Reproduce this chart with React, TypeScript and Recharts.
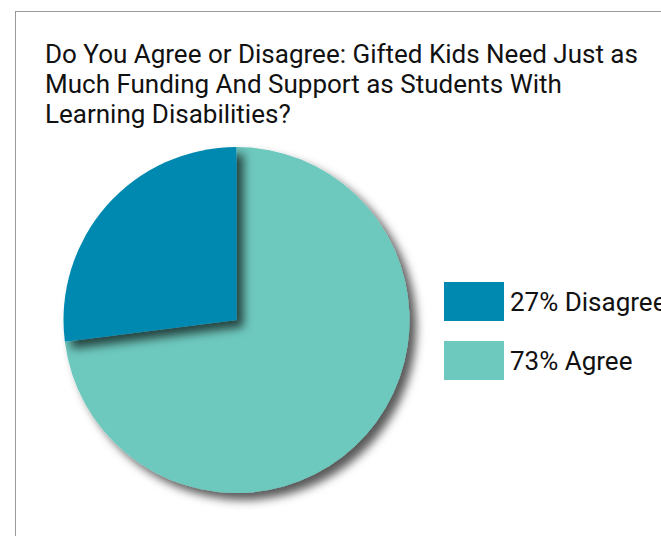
import React from "react";
import { PieChart, Pie, Cell } from "recharts";

const title = [
  "Do You Agree or Disagree: Gifted Kids Need Just as",
  "Much Funding And Support as Students With",
  "Learning Disabilities?",
];
const categories = ["Agree", "Disagree"];
const values = [73, 27];
const colors = ["#6DC8BE", "#0089B0"];
const legendOrder = [1, 0];

const data = categories.map((c, i) => ({ name: c, value: values[i] }));

export default function App() {
  return (
    <div
      style={{
        position: "fixed",
        left: 0,
        top: 0,
        width: 661,
        height: 536,
        overflow: "hidden",
        background: "#fff",
        fontFamily: "Roboto, sans-serif",
      }}
    >
      <div
        style={{
          position: "absolute",
          left: 15,
          top: 11,
          width: 700,
          height: 600,
          border: "1px solid #9a9a9a",
          boxSizing: "border-box",
        }}
      />
      <div style={{ position: "absolute", left: 45, top: 39, fontSize: 26, lineHeight: "30px", color: "#111", whiteSpace: "nowrap" }}>
        {title.map((t, i) => (
          <div key={i}>{t}</div>
        ))}
      </div>
      <div style={{ position: "absolute", left: 0, top: 0 }}>
        <PieChart width={661} height={536}>
          <defs>
            <filter id="sh" x="-30%" y="-30%" width="160%" height="160%">
              <feDropShadow dx="7" dy="7" stdDeviation="5" floodColor="#000" floodOpacity="0.65" />
            </filter>
          </defs>
          <Pie
            data={data}
            dataKey="value"
            nameKey="name"
            cx={231.5}
            cy={315}
            outerRadius={173}
            startAngle={90 + (27 / 100) * 360}
            endAngle={450 + (27 / 100) * 360}
            stroke="none"
            isAnimationActive={false}
          >
            {data.map((d, i) => (
              <Cell key={d.name} fill={colors[i]} filter="url(#sh)" />
            ))}
          </Pie>
        </PieChart>
      </div>
      {legendOrder.map((idx, k) => (
        <div key={idx} style={{ position: "absolute", left: 444, top: 282 + k * 59, display: "flex", alignItems: "center", whiteSpace: "nowrap" }}>
          <div style={{ width: 60, height: 39, background: colors[idx] }} />
          <div style={{ marginLeft: 6, fontSize: 26, color: "#111" }}>
            {values[idx]}% {categories[idx]}
          </div>
        </div>
      ))}
    </div>
  );
}
